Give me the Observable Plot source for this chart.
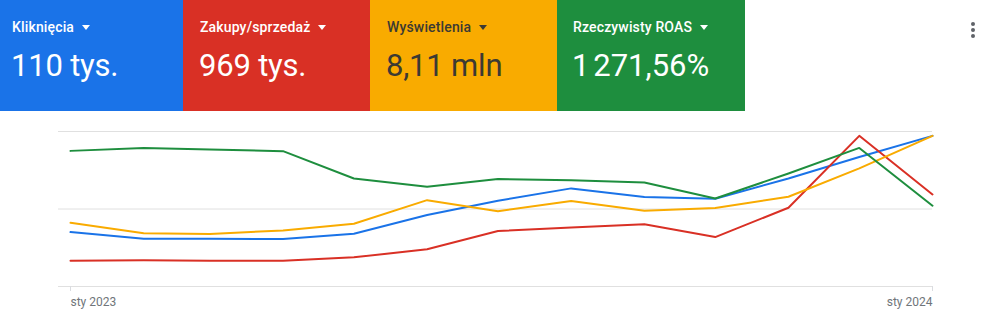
<!DOCTYPE html>
<html>
<head>
<meta charset="utf-8">
<script src="https://cdn.jsdelivr.net/npm/d3@7"></script>
<script src="https://cdn.jsdelivr.net/npm/@observablehq/plot@0.6"></script>
<style>
  html, body { margin: 0; padding: 0; background: #fff; font-family: Roboto, "Noto Sans", sans-serif; }
  #wrap { position: relative; width: 1000px; height: 323px; overflow: hidden; }
  #tiles { display: flex; height: 111px; }
  .tile { height: 111px; box-sizing: border-box; color: #fff; position: relative; }
  .tile .t { position: absolute; top: 19px; font-size: 14px; font-weight: 500; letter-spacing: 0.15px; white-space: nowrap; }
  .tile .caret { display: inline-block; width: 0; height: 0; border-left: 4.5px solid transparent; border-right: 4.5px solid transparent; border-top: 5px solid currentColor; margin-left: 8px; vertical-align: 2px; }
  .tile .v { position: absolute; top: 47px; font-size: 31px; font-weight: 400; white-space: nowrap; letter-spacing: -0.2px; }
  #menu { position: absolute; left: 971px; top: 22px; }
  #menu i { display: block; width: 4px; height: 4px; border-radius: 50%; background: #5f6368; margin-bottom: 2px; }
  #chart { position: absolute; left: 0; top: 111px; }
</style>
</head>
<body>
<div id="wrap">
  <div id="tiles"></div>
  <div id="menu"><i></i><i></i><i></i></div>
  <div id="chart"></div>
</div>
<script>
// ---- data ----
const metricNames = ["Kliknięcia", "Zakupy/sprzedaż", "Wyświetlenia", "Rzeczywisty ROAS"];
const metricTotals = ["110 tys.", "969 tys.", "8,11 mln", "1\u202F271,56%"];
const metricColors = ["#1a73e8", "#d93025", "#f9ab00", "#1e8e3e"];
const metricTextColors = ["#ffffff", "#ffffff", "#3c3a33", "#ffffff"];
const tileWidths = [183, 187, 187, 188];
const tilePadding = [12, 17, 17, 16];

const months = ["2023-01-01","2023-02-01","2023-03-01","2023-04-01","2023-05-01","2023-06-01",
                "2023-07-01","2023-08-01","2023-09-01","2023-10-01","2023-11-01","2023-12-01","2024-01-01"];
// relative (normalized) values of each series, 0..100 of its own hidden axis
const clicks      = [35.1, 30.8, 30.8, 30.6, 34.0, 46.1, 55.3, 63.3, 57.7, 56.6, 69.7, 83.6, 97.2];
const purchases   = [16.6, 16.9, 16.6, 16.6, 18.8, 24.0, 35.8, 38.1, 40.1, 31.9, 50.8, 97.2, 59.4];
const impressions = [41.1, 34.3, 33.8, 36.2, 40.5, 55.7, 48.6, 55.1, 48.8, 50.6, 57.9, 76.2, 97.2];
const roas        = [87.5, 89.4, 88.4, 87.3, 69.7, 64.3, 69.3, 68.6, 67.1, 56.8, 72.9, 89.4, 52.1];
const gridValues = [0, 50, 100];
const tickLabels = ["sty 2023", "sty 2024"];

// ---- tiles ----
const tiles = document.getElementById("tiles");
metricNames.forEach((name, i) => {
  const d = document.createElement("div");
  d.className = "tile";
  d.style.width = tileWidths[i] + "px";
  d.style.background = metricColors[i];
  d.style.color = metricTextColors[i];
  const p = tilePadding[i];
  d.innerHTML = `<div class="t" style="left:${p}px">${name}<span class="caret"></span></div><div class="v" style="left:${p - 1}px">${metricTotals[i]}</div>`;
  tiles.appendChild(d);
});

// ---- chart ----
const seriesList = [clicks, purchases, impressions, roas];
const parse = d3.utcParse("%Y-%m-%d");
const rows = [];
seriesList.forEach((vals, si) => {
  vals.forEach((v, j) => rows.push({metric: metricNames[si], date: parse(months[j]), value: v}));
});
const firstDate = parse(months[0]);
const lastDate = parse(months[months.length - 1]);

const chart = Plot.plot({
  width: 1000,
  height: 212,
  marginLeft: 70,
  marginRight: 68,
  marginTop: 20,
  marginBottom: 37,
  style: {fontFamily: "Roboto, sans-serif", fontSize: "12px", background: "transparent"},
  x: {type: "utc", domain: [firstDate, lastDate], axis: null},
  y: {domain: [0, 100], axis: null},
  color: {domain: metricNames, range: metricColors},
  marks: [
    Plot.ruleY(gridValues, {stroke: "#e0e0e0", strokeWidth: 1, insetLeft: -12}),
    Plot.axisX({ticks: [firstDate], tickFormat: () => tickLabels[0], tickSize: 5, tickPadding: 6, textAnchor: "start", stroke: "#dadce0", fill: "#70757a", fontSize: 12}),
    Plot.axisX({ticks: [lastDate], tickFormat: () => tickLabels[1], tickSize: 5, tickPadding: 6, textAnchor: "end", stroke: "#dadce0", fill: "#70757a", fontSize: 12}),
    Plot.line(rows, {x: "date", y: "value", z: "metric", stroke: "metric", strokeWidth: 2, curve: "linear"})
  ]
});
document.getElementById("chart").appendChild(chart);
</script>
</body>
</html>
